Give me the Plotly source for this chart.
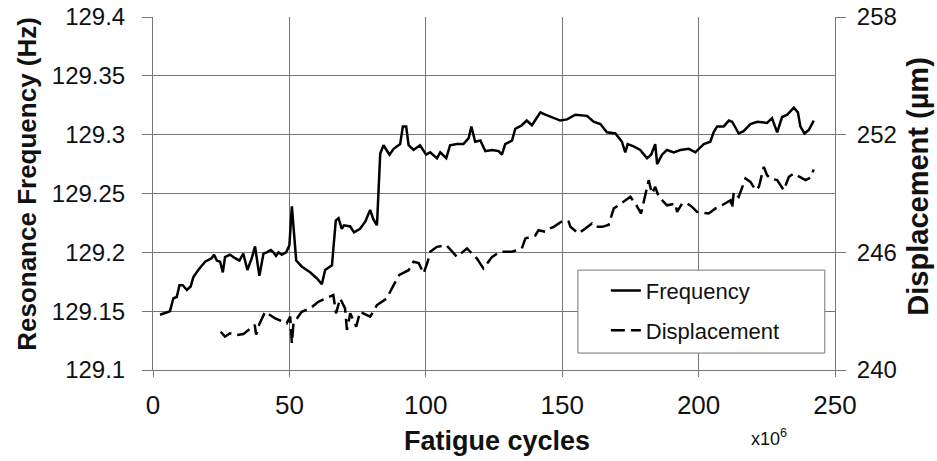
import plotly.graph_objects as go

# resonance frequency (Hz) vs fatigue cycles (x10^6)
freq_cycles = [2.6, 6.2, 7.5, 8.7, 9.7, 10.9, 12.4, 13.8, 14.8, 16.6, 19.1, 21.5, 22.4, 23.4, 24.6,
               25.6, 26.4, 28.2, 30.1, 31.7, 33.1, 34.6, 36.2, 37.4, 39.0, 40.5, 41.7, 43.2, 44.1,
               45.1, 46.0, 47.2, 48.8, 50.0, 50.9, 51.7, 52.5, 54.5, 57.6, 60.0, 61.9, 63.1, 65.6,
               67.0, 68.0, 69.2, 70.0, 72.3, 73.7, 75.9, 77.8, 79.6, 80.8, 82.1, 83.3, 84.5, 86.7,
               88.2, 90.6, 91.6, 92.8, 93.7, 95.5, 97.9, 100.1, 101.6, 104.1, 105.3, 107.5, 108.9,
               111.4, 113.8, 115.7, 116.7, 118.1, 120.0, 121.8, 124.3, 126.7, 127.9, 129.1, 131.6,
               132.8, 135.2, 137.0, 138.9, 140.7, 142.0, 143.8, 146.2, 149.3, 151.8, 154.8, 159.1,
               161.5, 164.0, 166.4, 169.5, 171.9, 173.1, 174.0, 176.2, 178.6, 181.1, 182.6, 184.1,
               184.8, 186.6, 188.4, 190.9, 193.3, 196.4, 198.8, 201.9, 204.3, 205.5, 206.8, 209.2,
               211.1, 212.3, 214.7, 216.5, 219.0, 221.5, 225.1, 226.9, 228.8, 230.6, 232.5, 234.9,
               236.4, 237.3, 238.8, 240.4, 242.2]
freq_hz = [129.147, 129.150, 129.161, 129.162, 129.172, 129.172, 129.168, 129.171, 129.179, 129.185,
           129.192, 129.195, 129.198, 129.193, 129.192, 129.183, 129.196, 129.198, 129.195, 129.193,
           129.199, 129.185, 129.195, 129.205, 129.180, 129.199, 129.200, 129.202, 129.200, 129.197,
           129.200, 129.198, 129.200, 129.206, 129.239, 129.213, 129.193, 129.188, 129.183, 129.178,
           129.173, 129.185, 129.189, 129.227, 129.229, 129.220, 129.223, 129.222, 129.217, 129.220,
           129.226, 129.236, 129.228, 129.223, 129.284, 129.291, 129.283, 129.288, 129.292, 129.307,
           129.307, 129.291, 129.287, 129.291, 129.283, 129.285, 129.280, 129.285, 129.280, 129.291,
           129.292, 129.292, 129.297, 129.307, 129.294, 129.295, 129.286, 129.287, 129.286, 129.283,
           129.292, 129.295, 129.305, 129.308, 129.312, 129.308, 129.315, 129.319, 129.317, 129.315,
           129.312, 129.313, 129.317, 129.316, 129.311, 129.309, 129.302, 129.301, 129.294, 129.285,
           129.292, 129.290, 129.287, 129.280, 129.283, 129.292, 129.275, 129.283, 129.287, 129.285,
           129.287, 129.288, 129.285, 129.292, 129.294, 129.302, 129.307, 129.307, 129.312, 129.311,
           129.301, 129.303, 129.309, 129.311, 129.310, 129.314, 129.302, 129.315, 129.317, 129.323,
           129.319, 129.307, 129.301, 129.304, 129.312]

# displacement (um)
disp_cycles = [24.8, 26.4, 28.2, 30.7, 33.1, 35.6, 37.3, 37.8, 39.0, 41.1, 43.0, 44.8, 49.0, 50.3,
               50.9, 51.5, 54.5, 57.6, 60.6, 63.7, 66.1, 67.1, 68.6, 70.4, 71.1, 72.3, 74.5, 75.9,
               79.6, 82.1, 85.7, 88.2, 90.3, 93.7, 95.5, 97.4, 99.2, 100.7, 101.6, 104.1, 107.5,
               111.4, 115.1, 118.7, 121.1, 124.3, 127.3, 131.6, 135.2, 136.5, 138.3, 140.1, 141.3,
               143.8, 145.6, 146.9, 150.5, 152.4, 153.0, 156.0, 158.5, 160.9, 162.1, 164.6, 167.0,
               168.9, 170.7, 175.0, 177.2, 178.9, 181.7, 182.9, 184.1, 185.4, 188.4, 191.5, 192.1,
               194.0, 195.8, 197.6, 199.4, 203.7, 206.2, 208.6, 211.7, 212.3, 212.9, 214.7, 217.2,
               219.0, 220.9, 222.1, 223.9, 225.1, 226.3, 228.8, 231.2, 233.1, 234.9, 237.3, 239.2,
               241.0, 242.2]
disp_um = [241.95, 241.70, 241.87, 241.78, 241.83, 242.12, 242.30, 241.80, 242.35, 242.97, 242.80,
           242.63, 242.38, 242.72, 241.36, 242.38, 242.97, 243.14, 243.48, 243.65, 243.82, 242.89,
           243.65, 243.14, 242.04, 242.89, 242.21, 242.97, 242.72, 243.31, 243.65, 244.33, 244.85,
           245.09, 245.52, 245.45, 244.93, 245.52, 246.03, 246.28, 246.37, 245.77, 246.20, 245.69,
           245.18, 245.77, 246.03, 246.03, 246.20, 246.71, 246.79, 246.85, 247.13, 247.05, 247.22,
           247.30, 247.64, 247.56, 247.30, 246.96, 247.22, 247.47, 247.30, 247.30, 247.39, 248.24,
           248.40, 248.83, 248.40, 247.98, 249.68, 249.00, 249.34, 248.83, 248.40, 248.49, 248.06,
           248.49, 248.49, 248.32, 248.06, 247.98, 248.24, 248.40, 248.66, 248.24, 249.08, 248.83,
           249.77, 249.59, 249.17, 249.34, 250.36, 249.93, 249.77, 249.68, 249.17, 249.85, 250.02,
           249.85, 249.68, 249.81, 250.22]

FONT = "Liberation Sans, Arial, sans-serif"
GRID = "#777"

fig = go.Figure()
fig.add_trace(go.Scatter(x=freq_cycles, y=freq_hz, name="Frequency", mode="lines",
                         line=dict(color="black", width=2.5), legendgroup="f"))
fig.add_trace(go.Scatter(x=disp_cycles, y=disp_um, name="Displacement", mode="lines", yaxis="y2",
                         line=dict(color="black", width=2.5, dash="14px,6px"), legendgroup="d"))

fig.update_layout(
    width=937, height=461,
    margin=dict(l=153, r=102, t=17, b=91, autoexpand=False),
    paper_bgcolor="white", plot_bgcolor="white",
    font=dict(family=FONT, color="#111"),
    xaxis=dict(range=[0, 250], dtick=50, showgrid=True, gridcolor=GRID, gridwidth=1,
               showline=True, linecolor=GRID, ticks="outside", ticklen=6, tickcolor=GRID,
               tickfont=dict(size=26), zeroline=False, automargin=False, ticklabelstandoff=6),
    yaxis=dict(range=[129.1, 129.4], tickvals=[129.1, 129.15, 129.2, 129.25, 129.3, 129.35, 129.4],
               ticktext=["129.1", "129.15", "129.2", "129.25", "129.3", "129.35", "129.4"],
               showgrid=True, gridcolor=GRID, showline=True, linecolor=GRID,
               ticks="outside", ticklen=10, tickcolor=GRID, tickfont=dict(size=24),
               zeroline=False, automargin=False, ticklabelstandoff=12),
    yaxis2=dict(range=[240, 258], tickvals=[240, 246, 252, 258], overlaying="y", side="right",
                showgrid=False, showline=True, linecolor=GRID, ticks="outside", ticklen=10,
                tickcolor=GRID, tickfont=dict(size=24), zeroline=False, automargin=False,
                ticklabelstandoff=6),
    showlegend=True,
    legend=dict(x=0.664, y=0.284, xanchor="left", yanchor="top", bgcolor="rgba(0,0,0,0)",
                borderwidth=0, font=dict(size=22), tracegroupgap=8, traceorder="grouped"),
    shapes=[dict(type="rect", xref="paper", yref="paper", x0=0.623, x1=0.985, y0=0.048, y1=0.283,
                 fillcolor="white", line=dict(color=GRID, width=1), layer="above")],
    annotations=[
        dict(text="<b>Resonance Frequency (Hz)</b>", xref="paper", yref="paper", x=-0.185, y=0.527,
             xanchor="center", yanchor="middle", textangle=-90, showarrow=False,
             font=dict(size=26)),
        dict(text="<b>Displacement (µm)</b>", xref="paper", yref="paper", x=1.122, y=0.52,
             xanchor="center", yanchor="middle", textangle=-90, showarrow=False,
             font=dict(size=29)),
        dict(text="<b>Fatigue cycles</b>", xref="paper", yref="paper", x=0.504, y=-0.201,
             xanchor="center", yanchor="middle", showarrow=False, font=dict(size=27)),
        dict(text="x10<sup>6</sup>", xref="paper", yref="paper", x=0.903, y=-0.19,
             xanchor="center", yanchor="middle", showarrow=False, font=dict(size=18)),
    ],
)

# drop the default 8px page margin so the figure sits at the window's corner
fig.write_html("out.html", config={"displayModeBar": False},
               post_script="document.body.style.margin='0px';")
